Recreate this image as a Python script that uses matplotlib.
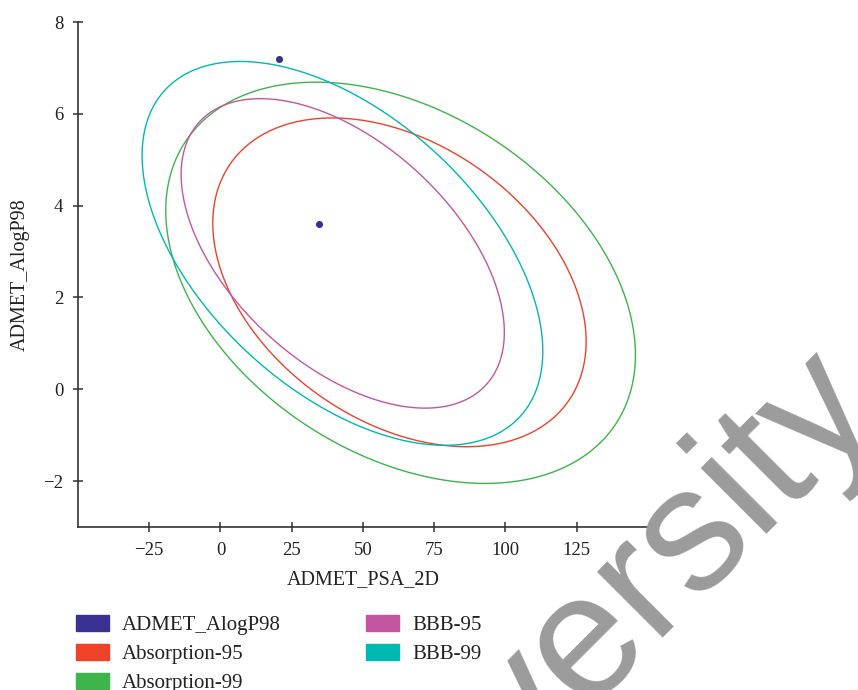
import numpy as np
import matplotlib
matplotlib.use("Agg")
import matplotlib.pyplot as plt
from matplotlib.patches import Patch

plt.rcParams['font.family'] = ['Liberation Serif', 'DejaVu Serif']

# Compound points (PSA_2D, AlogP98)
psa_points = [34.7, 20.7]
alogp_points = [3.6, 7.19]

# Confidence ellipses: centre, half extents along x / y, and the shape term
ellipse_names = ["Absorption-95", "Absorption-99", "BBB-95", "BBB-99"]
center_x = [62.8, 63.2, 42.9, 42.8]
center_y = [2.33, 2.32, 2.96, 2.96]
half_x = [65.5, 82.4, 56.7, 70.3]
half_y = [3.58, 4.37, 3.37, 4.18]
shape_corr = [-0.36, -0.36, -0.51, -0.51]

ellipse_colors = ["#ee4229", "#3cb54b", "#c456a1", "#00b9b2"]
point_color = "#3a3192"

x_ticks = [-25, 0, 25, 50, 75, 100, 125]
y_ticks = [-2, 0, 2, 4, 6, 8]

fig = plt.figure(figsize=(8.58, 6.9), dpi=100)
ax = fig.add_axes([0.0909, 0.2362, 0.6643, 0.7319])

t = np.linspace(0, 2 * np.pi, 500)
for name, cx, cy, hx, hy, c, col in zip(ellipse_names, center_x, center_y,
                                        half_x, half_y, shape_corr, ellipse_colors):
    phi = np.arccos(c)
    # closed outline, no fill
    ax.fill(cx + hx * np.cos(t), cy + hy * np.cos(t - phi),
            fill=False, edgecolor=col, lw=1.0)

ax.scatter(psa_points, alogp_points, s=26, color=point_color, zorder=5, linewidths=0)

ax.set_xlim(-50, 150)
ax.set_ylim(-3, 8)
ax.set_xticks(x_ticks)
ax.set_yticks(y_ticks)
ax.set_xticklabels([str(v).replace('-', '\u2212') for v in x_ticks])
ax.set_yticklabels([str(v).replace('-', '\u2212') for v in y_ticks])

for side in ['top', 'right']:
    ax.spines[side].set_visible(False)
for side in ['left', 'bottom']:
    ax.spines[side].set_linewidth(1.2)
    ax.spines[side].set_color('#333333')

ax.tick_params(direction='inout', length=7, width=1.1, color='#333333',
               labelsize=13.5, labelcolor='#222222', pad=7)

ax.set_xlabel("ADMET_PSA_2D", fontsize=14.5, color='#222222', labelpad=8)
ax.set_ylabel("ADMET_AlogP98", fontsize=14.5, color='#222222', labelpad=10)

handles = [Patch(color=point_color, label="ADMET_AlogP98")]
handles += [Patch(color=col, label=name) for name, col in zip(ellipse_names, ellipse_colors)]
fig.legend(handles=handles, loc='upper left', bbox_to_anchor=(0.089, 0.109),
           ncol=2, frameon=False, fontsize=15, handlelength=1.55,
           handleheight=0.8, handletextpad=0.65, columnspacing=4.1,
           labelspacing=0.42, borderpad=0, borderaxespad=0,
           labelcolor='#222222')

# watermark
fig.text(0.6096, -0.126, "versity", fontsize=127, family='Liberation Sans',
         color='#9b9b9b', rotation=45, rotation_mode='anchor',
         ha='left', va='baseline', zorder=20)

fig.savefig("out.png", dpi=100)
